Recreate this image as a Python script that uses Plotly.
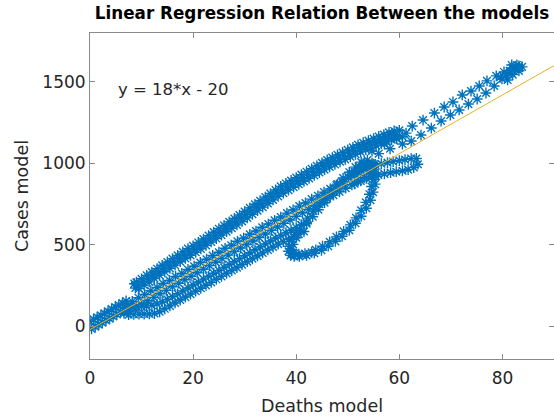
import plotly.graph_objects as go

# ---- model output samples (Deaths model, Cases model) ----
# origin band
origin_x_a = [0.0, 0.7, 1.4, 2.1, 2.8, 3.5, 4.2, 4.9, 5.6, 6.3, 7.0]
origin_y_a = [30, 43, 55, 68, 80, 93, 106, 118, 131, 143, 156]
origin_x_b = [0.3, 1.0, 1.7, 2.4, 3.1, 3.8, 4.5, 5.2, 5.9, 6.6]
origin_y_b = [-15, -2, 11, 23, 36, 48, 61, 74, 86, 99]

# upper band (outbound / return rows)
upper_x_a = [9, 10, 11, 12, 13, 14, 15, 16, 17, 18, 19, 20, 21, 22, 23, 24, 25, 26,
             27, 28, 29, 30, 31, 32, 33, 34, 35, 36, 37, 38, 39, 40, 41, 42, 43, 44,
             45, 46, 47, 48, 49, 50, 51, 52, 53, 54, 55, 56, 57, 58, 59, 60]
upper_y_a = [271, 292, 313, 333, 354, 375, 395, 416, 436, 457, 477, 494, 515, 536,
             557, 578, 599, 620, 641, 662, 683, 705, 727, 749, 771, 793, 815, 837,
             859, 877, 895, 913, 931, 949, 967, 985, 1003, 1021, 1036, 1052, 1067,
             1083, 1098, 1114, 1127, 1140, 1152, 1165, 1177, 1190, 1199, 1203]
upper_x_b = [9.5, 10.5, 11.5, 12.5, 13.5, 14.5, 15.5, 16.5, 17.5, 18.5, 19.5, 20.5,
             21.5, 22.5, 23.5, 24.5, 25.5, 26.5, 27.5, 28.5, 29.5, 30.5, 31.5, 32.5,
             33.5, 34.5, 35.5, 36.5, 37.5, 38.5, 39.5, 40.5, 41.5, 42.5, 43.5, 44.5,
             45.5, 46.5, 47.5, 48.5, 49.5, 50.5, 51.5, 52.5, 53.5, 54.5, 55.5, 56.5,
             57.5, 58.5, 59.5, 60.6, 8.6, 8.8]
upper_y_b = [232, 253, 273, 294, 315, 335, 356, 376, 397, 417, 436, 455, 476, 497,
             518, 539, 560, 581, 602, 623, 644, 666, 688, 710, 732, 754, 776, 798,
             818, 836, 854, 872, 890, 908, 926, 944, 962, 979, 994, 1010, 1025, 1041,
             1056, 1071, 1084, 1096, 1109, 1121, 1134, 1145, 1151, 1165, 262, 236]
upper_x_c = [9.3, 10.3, 11.3, 12.3, 13.3, 14.3, 15.3, 16.3, 17.3, 18.3, 19.3, 20.3,
             21.3, 22.3, 23.3, 24.3, 25.3, 26.3, 27.3, 28.3, 29.3, 30.3, 31.3, 32.3,
             33.3, 34.3, 35.3, 36.3, 37.3, 38.3, 39.3, 40.3, 41.3, 42.3, 43.3, 44.3,
             45.3, 46.3, 47.3, 48.3, 49.3, 50.3, 51.3, 52.3, 53.3, 54.3, 55.3, 56.3,
             57.3, 58.3, 59.3]
upper_y_c = [252, 273, 294, 314, 335, 356, 376, 397, 417, 438, 457, 475, 496, 517,
             538, 559, 580, 601, 622, 643, 665, 687, 709, 731, 753, 775, 797, 819,
             840, 858, 876, 894, 912, 930, 948, 966, 984, 1001, 1016, 1032, 1047,
             1063, 1078, 1093, 1106, 1119, 1131, 1144, 1156, 1168, 1176]

# middle band
middle_x_a = [7.0, 8.2, 9.4, 10.6, 11.8, 13.0, 14.2, 15.4, 16.6, 17.8, 19.0, 20.2,
              21.4, 22.6, 23.8, 25.0, 26.2, 27.4, 28.6, 29.8, 31.0, 32.2, 33.4, 34.6,
              35.8, 37.0, 38.2, 39.4, 40.6, 41.8, 43.0, 44.2, 45.4, 46.6, 47.8, 49.0,
              50.2, 51.4, 52.6, 53.8, 55.0]
middle_y_a = [131, 153, 176, 196, 219, 239, 263, 282, 306, 325, 349, 369, 392, 412,
              435, 455, 479, 498, 522, 541, 565, 585, 608, 628, 651, 671, 695, 714,
              738, 757, 781, 801, 824, 844, 867, 887, 911, 930, 954, 973, 995]
middle_x_b = [7.6, 8.8, 10.0, 11.2, 12.4, 13.6, 14.8, 16.0, 17.2, 18.4, 19.6, 20.8,
              22.0, 23.2, 24.4, 25.6, 26.8, 28.0, 29.2, 30.4, 31.6, 32.8, 34.0, 35.2,
              36.4, 37.6, 38.8, 40.0, 41.2, 42.4, 43.6, 44.8, 46.0, 47.2, 48.4, 49.6,
              50.8, 52.0, 53.2, 54.4]
middle_y_b = [92, 113, 135, 157, 178, 200, 221, 243, 265, 286, 308, 329, 351, 373,
              394, 416, 437, 459, 481, 502, 524, 545, 567, 589, 610, 632, 653, 675,
              697, 718, 740, 761, 783, 805, 826, 848, 869, 891, 913, 934]

# lower band
lower_x_a = [7, 8, 9, 10, 11, 12, 13, 14, 15, 16, 17, 18, 19, 20, 21, 22, 23, 24, 25,
             26, 27, 28, 29, 30, 31, 32, 33, 34, 35, 36, 37, 38, 39, 40, 41, 42]
lower_y_a = [118, 120, 122, 124, 126, 130, 138, 150, 166, 183, 200, 218, 236, 254,
             272, 290, 308, 326, 344, 362, 380, 398, 416, 434, 452, 470, 488, 506,
             524, 542, 558, 574, 590, 606, 622, 638]
lower_x_b = [7.5, 8.5, 9.5, 10.5, 11.5, 12.5, 13.5, 14.5, 15.5, 16.5, 17.5, 18.5,
             19.5, 20.5, 21.5, 22.5, 23.5, 24.5, 25.5, 26.5, 27.5, 28.5, 29.5, 30.5,
             31.5, 32.5, 33.5, 34.5, 35.5, 36.5, 37.5, 38.5, 39.5, 40.5, 41.5, 6.6]
lower_y_b = [72, 74, 75, 76, 77, 79, 90, 108, 126, 144, 162, 180, 198, 216, 234,
             252, 270, 289, 307, 325, 343, 361, 379, 397, 415, 433, 451, 469, 487,
             505, 520, 535, 550, 566, 582, 80]

# closed loop (second wave)
loop_x_a = [38.9, 39.6, 40.6, 42.0, 43.5, 44.9, 46.2, 47.6, 48.9, 50.3, 51.5, 52.6,
            53.6, 54.4, 54.9, 55.3, 55.5, 55.3, 54.7, 53.8, 52.6, 51.5, 50.3, 49.1,
            48.0, 46.8, 45.6, 44.5, 43.3, 42.2, 41.0, 40.0, 39.2, 38.7, 38.5]
loop_y_a = [436, 430, 430, 436, 449, 467, 492, 522, 553, 590, 633, 676, 725, 774,
            824, 873, 922, 965, 1002, 1020, 1008, 977, 946, 910, 873, 836, 793, 750,
            707, 664, 621, 578, 535, 492, 461]
loop_x_b = [39.6, 40.5, 41.7, 43.0, 43.8, 45.1, 46.5, 47.8, 49.2, 50.5, 51.6, 52.6,
            53.5, 54.2, 54.6, 54.9, 54.9, 54.5, 53.9, 53.0, 52.3, 51.3, 50.1, 49.0,
            47.8, 46.6, 45.5, 44.3, 43.2, 42.0, 40.9, 40.0, 39.4, 39.1, 39.1]
loop_y_b = [447, 444, 447, 455, 470, 492, 519, 549, 583, 623, 666, 712, 761, 811,
            858, 902, 940, 972, 996, 998, 978, 949, 916, 879, 842, 802, 759, 716,
            673, 630, 587, 544, 503, 472, 452]

# right lobe
lobe_x_a = [50.7, 51.9, 53.0, 54.2, 55.3, 56.5, 57.7, 58.8, 60.0, 61.1, 62.3, 63.3]
lobe_y_a = [931, 949, 968, 980, 992, 998, 1005, 1011, 1017, 1023, 1029, 1030]
lobe_x_b = [51.3, 52.5, 53.6, 54.8, 55.9, 57.1, 58.3, 59.4, 60.6, 61.7, 62.8, 63.6]
lobe_y_b = [875, 893, 909, 921, 930, 936, 943, 949, 955, 962, 975, 995]

# sparse run to the peak
peak_x_a = [62.5, 64.6, 66.8, 68.7, 70.4, 72.2, 73.9, 75.5, 77.0, 78.8, 80.3, 81.9, 83.2]
peak_y_a = [1229, 1266, 1309, 1346, 1377, 1420, 1444, 1475, 1506, 1537, 1561, 1586, 1598]
peak_x_b = [62.3, 64.2, 66.2, 68.1, 69.9, 71.6, 73.4, 75.1, 76.8, 78.4, 79.9, 81.7, 83.2]
peak_y_b = [1137, 1174, 1217, 1260, 1297, 1328, 1364, 1395, 1432, 1475, 1518, 1555, 1586]
peak_x_c = [80.8, 81.4, 82.4, 82.8, 83.8, 83.2, 81.8, 81.0, 82.0, 79.6,
            54.7, 57.1, 59.4, 60.6, 61.3, 56.0, 58.2]
peak_y_c = [1543, 1568, 1580, 1604, 1592, 1568, 1604, 1512, 1545, 1530,
            1076, 1119, 1155, 1119, 1186, 1060, 1090]

# fitted regression line
slope = 18
intercept = -20
fit_x = [0, 90]

deaths = (origin_x_a + origin_x_b + upper_x_a + upper_x_b + upper_x_c
          + middle_x_a + middle_x_b + lower_x_a + lower_x_b + loop_x_a + loop_x_b
          + lobe_x_a + lobe_x_b + peak_x_a + peak_x_b + peak_x_c)
cases = (origin_y_a + origin_y_b + upper_y_a + upper_y_b + upper_y_c
         + middle_y_a + middle_y_b + lower_y_a + lower_y_b + loop_y_a + loop_y_b
         + lobe_y_a + lobe_y_b + peak_y_a + peak_y_b + peak_y_c)

FONT = "DejaVu Sans"
TEXT = "#262626"
AXIS = "#8a8a8a"

fig = go.Figure()
fig.add_trace(go.Scatter(
    x=deaths, y=cases, mode="markers",
    marker=dict(symbol="asterisk-open", size=9, color="#0072BD",
                line=dict(color="#0072BD", width=1.4)),
    showlegend=False, hoverinfo="skip",
))
fig.add_trace(go.Scatter(
    x=fit_x, y=[slope * v + intercept for v in fit_x], mode="lines",
    line=dict(color="#EDB120", width=1), showlegend=False, hoverinfo="skip",
))

fig.add_annotation(
    x=5.1, y=1455, xref="x", yref="y", xanchor="left", yanchor="middle",
    text=f"y = {slope}*x - {abs(intercept)}", showarrow=False,
    font=dict(family=FONT, size=16.5, color=TEXT),
)

axis_common = dict(
    showgrid=False, zeroline=False, showline=True, linecolor=AXIS, linewidth=1,
    mirror="ticks", ticks="inside", ticklen=5, tickcolor=AXIS,
    tickfont=dict(family=FONT, size=17, color=TEXT),
)

fig.update_layout(
    width=554, height=419,
    margin=dict(l=90, r=0, t=33, b=60),
    paper_bgcolor="white", plot_bgcolor="white",
    title=dict(text="<b>Linear Regression Relation Between the models</b>",
               x=0.5, xref="paper", xanchor="center",
               y=1 - 13 / 419, yref="container", yanchor="middle",
               font=dict(family=FONT, size=16.8, color="#000000")),
    xaxis=dict(range=[0, 90], tickvals=[0, 20, 40, 60, 80], ticklabelstandoff=4,
               title=dict(text="Deaths model", standoff=12,
                          font=dict(family=FONT, size=17.5, color=TEXT)),
               **axis_common),
    yaxis=dict(range=[-200, 1800], tickvals=[0, 500, 1000, 1500],
               title=dict(text="Cases model", standoff=9,
                          font=dict(family=FONT, size=17.5, color=TEXT)),
               **axis_common),
)

fig.write_html("out.html")
